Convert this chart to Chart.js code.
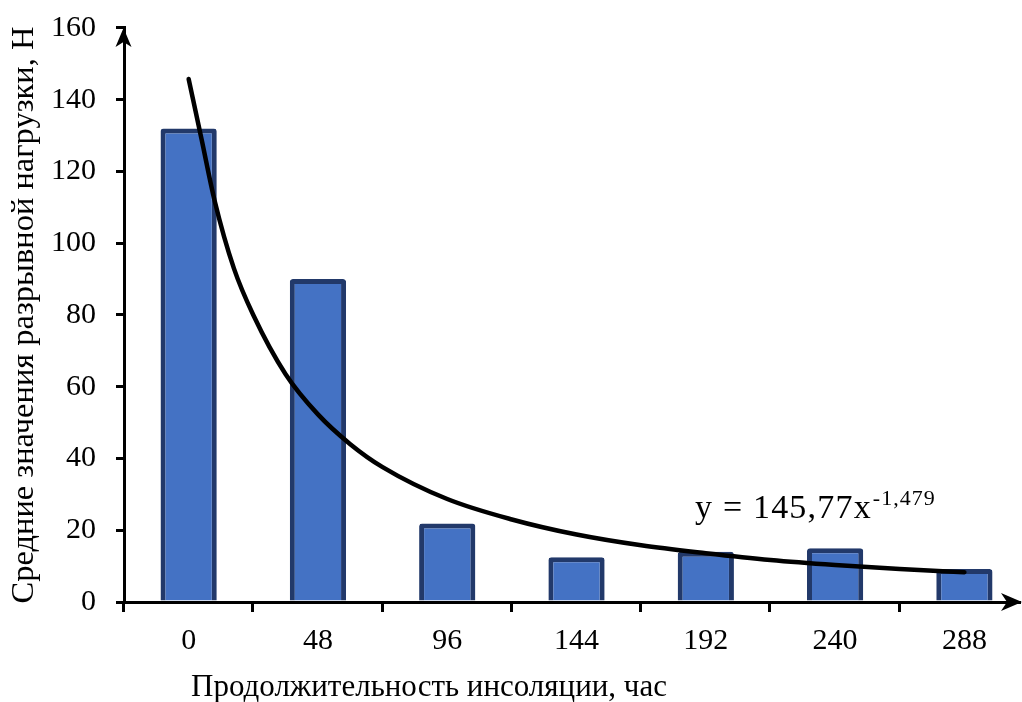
<!DOCTYPE html>
<html lang="ru">
<head>
<meta charset="utf-8">
<script src="https://cdn.jsdelivr.net/npm/chart.js@4.4.1/dist/chart.umd.min.js"></script>
<style>
  html, body { margin: 0; padding: 0; background: #fff; }
  #wrap { width: 1022px; height: 702px; position: relative; }
</style>
</head>
<body>
<div id="wrap"><canvas id="chart" width="1022" height="702"></canvas></div>
<script>
// bar categories (hours of insolation) and mean breaking load, N
const categories = ['0', '48', '96', '144', '192', '240', '288'];
const loadValues = [132.0, 90.0, 21.9, 12.5, 14.0, 15.0, 9.2];

// power trend line (x in category index units)
const trendX = [0, 0.1, 0.2, 0.35, 0.5, 0.75, 1.0, 1.25, 1.5, 2.0, 2.5, 3.0, 3.5, 4.0, 4.5, 5.0, 5.5, 6.0];
const trendY = [145.8, 129, 112, 93, 80, 63.5, 52.3, 44, 37.6, 28.7, 23, 18.8, 15.8, 13.6, 11.7, 10.3, 9.2, 8.3];

const yTicks = [0, 20, 40, 60, 80, 100, 120, 140, 160];

const xTitle = 'Продолжительность инсоляции, час';
const yTitle = 'Средние значения разрывной нагрузки, Н';
const equationMain = 'y = 145,77x';
const equationPower = '-1,479';

const FONT = '"Liberation Serif", "Times New Roman", serif';

const axisDecor = {
    id: 'axisDecor',
    afterDraw(chart) {
        const { ctx, chartArea, scales } = chart;
        const x = scales.x;
        ctx.save();
        ctx.strokeStyle = '#000';
        ctx.fillStyle = '#000';
        ctx.lineWidth = 3;

        // tick marks between categories
        for (let i = 0; i < categories.length; i++) {
            const px = Math.round(x.getPixelForValue(i - 0.5)) - 0.5;
            ctx.beginPath();
            ctx.moveTo(px, chartArea.bottom);
            ctx.lineTo(px, chartArea.bottom + 10);
            ctx.stroke();
        }

        // arrow on x axis
        const bx = chartArea.bottom;
        const tipX = chartArea.right + 2;
        ctx.beginPath();
        ctx.moveTo(tipX, bx);
        ctx.lineTo(tipX - 21, bx - 9);
        ctx.lineTo(tipX - 15, bx);
        ctx.lineTo(tipX - 21, bx + 9);
        ctx.closePath();
        ctx.fill();

        // arrow on y axis
        const ax = chartArea.left - 0.5;
        const tipY = chartArea.top;
        ctx.beginPath();
        ctx.moveTo(ax, tipY);
        ctx.lineTo(ax - 8, tipY + 19);
        ctx.lineTo(ax, tipY + 14);
        ctx.lineTo(ax + 8, tipY + 19);
        ctx.closePath();
        ctx.fill();

        // equation of the trend line
        ctx.textBaseline = 'alphabetic';
        ctx.textAlign = 'left';
        ctx.font = '34px ' + FONT;
        ctx.letterSpacing = '1.2px';
        ctx.fillText(equationMain, 695, 518);
        const w = ctx.measureText(equationMain).width;
        ctx.font = '22px ' + FONT;
        ctx.letterSpacing = '1px';
        ctx.fillText(equationPower, 695 + w + 1, 505);

        // x axis title
        ctx.letterSpacing = '0px';
        ctx.font = '31px ' + FONT;
        ctx.textAlign = 'center';
        ctx.fillText(xTitle, 429, 696);
        ctx.restore();
    }
};

const ctx = document.getElementById('chart').getContext('2d');
new Chart(ctx, {
    data: {
        datasets: [
            {
                type: 'line',
                data: trendX.map((v, i) => ({ x: v, y: trendY[i] })),
                borderColor: '#000',
                borderWidth: 4.5,
                borderCapStyle: 'round',
                pointRadius: 0,
                cubicInterpolationMode: 'monotone',
                fill: false,
                order: 0
            },
            {
                type: 'bar',
                data: loadValues.map((v, i) => ({ x: i, y: v })),
                backgroundColor: '#4472C4',
                borderColor: '#22396a',
                borderWidth: 5,
                borderRadius: 3,
                borderSkipped: 'start',
                barPercentage: 0.435,
                categoryPercentage: 1,
                order: 1
            }
        ]
    },
    options: {
        responsive: false,
        devicePixelRatio: 1,
        animation: false,
        layout: { padding: { top: 10, right: 2, bottom: 0, left: 0 } },
        plugins: { legend: { display: false }, tooltip: { enabled: false } },
        scales: {
            x: {
                type: 'linear',
                offset: false,
                min: -0.5,
                max: 6.43,
                afterBuildTicks: (scale) => {
                    scale.ticks = categories.map((c, i) => ({ value: i }));
                },
                afterFit: (scale) => { scale.height = 100; },
                ticks: {
                    autoSkip: false,
                    maxRotation: 0,
                    padding: 11,
                    color: '#000',
                    font: { family: FONT, size: 30 },
                    callback: (v) => categories[v]
                },
                grid: { display: false, offset: false, drawTicks: true, tickLength: 10 },
                border: { display: true, color: '#000', width: 3 }
            },
            y: {
                min: 0,
                max: 160,
                afterBuildTicks: (scale) => {
                    scale.ticks = yTicks.map(v => ({ value: v }));
                },
                afterFit: (scale) => { scale.width = 124; },
                ticks: {
                    padding: 20,
                    color: '#000',
                    font: { family: FONT, size: 30, lineHeight: 0.5333 }
                },
                grid: {
                    display: true,
                    drawOnChartArea: false,
                    drawTicks: true,
                    tickLength: 8,
                    lineWidth: 3,
                    color: '#000'
                },
                border: { display: true, color: '#000', width: 3 },
                title: {
                    display: true,
                    text: yTitle,
                    color: '#000',
                    font: { family: FONT, size: 32.5 },
                    padding: { top: 5, bottom: 0 }
                }
            }
        }
    },
    plugins: [axisDecor]
});
</script>
</body>
</html>
